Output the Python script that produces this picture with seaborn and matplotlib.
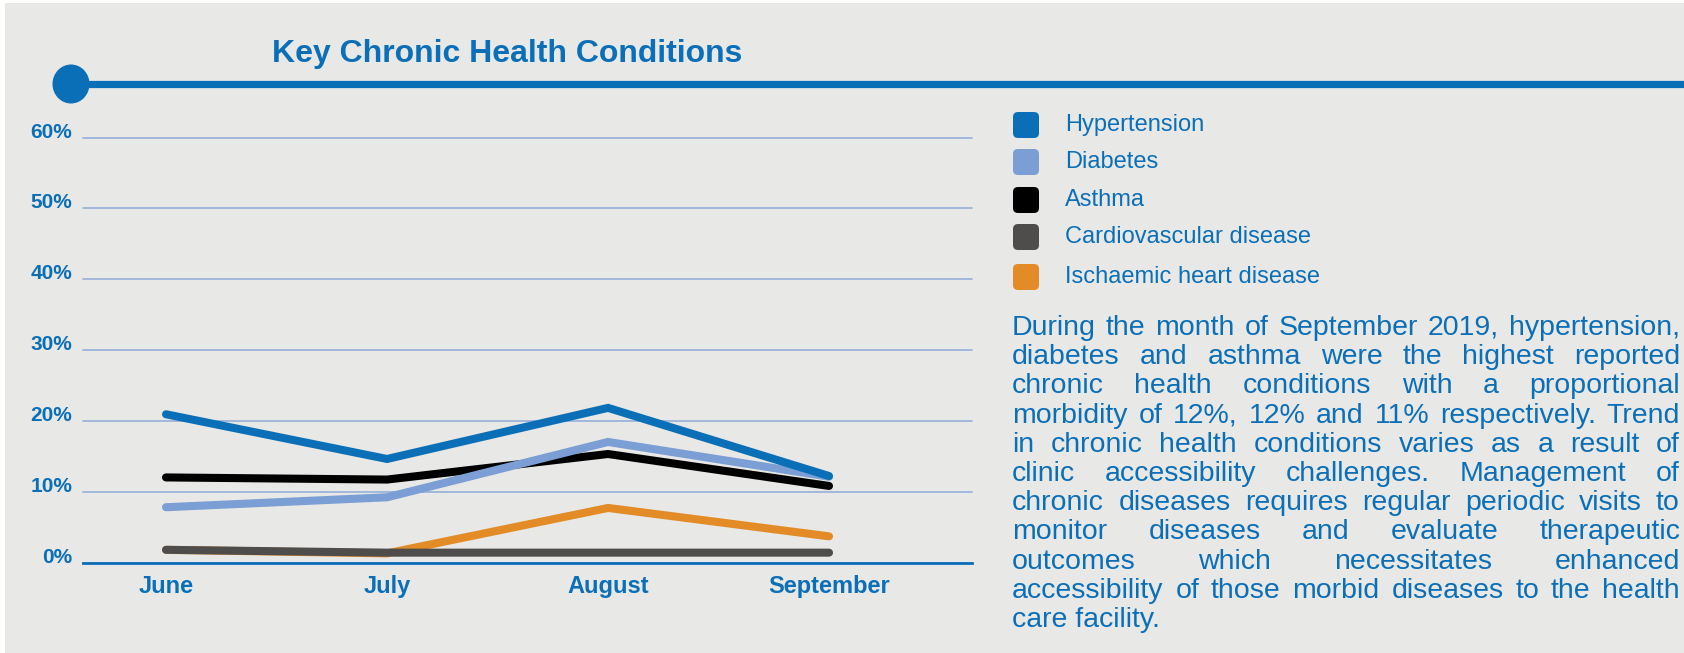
import matplotlib

matplotlib.use("Agg")
import pandas as pd
import seaborn as sns
import matplotlib.pyplot as plt
from matplotlib.patches import Rectangle, Ellipse, FancyBboxPatch
from matplotlib.lines import Line2D

# data (% proportional morbidity)
months = ["June", "July", "August", "September"]
hypertension = [21.0, 14.7, 21.9, 12.3]
diabetes = [7.9, 9.3, 17.1, 12.2]
asthma = [12.1, 11.8, 15.4, 10.9]
cardiovascular = [1.9, 1.5, 1.5, 1.5]
ischaemic = [1.9, 1.4, 7.8, 3.8]

legend_order = ["Hypertension", "Diabetes", "Asthma",
                "Cardiovascular disease", "Ischaemic heart disease"]
colors = {
    "Hypertension": "#0B6FB8",
    "Diabetes": "#7B9ED4",
    "Asthma": "#000000",
    "Cardiovascular disease": "#4F4D4C",
    "Ischaemic heart disease": "#E38B27",
}
# drawing order, bottom to top
draw_order = ["Ischaemic heart disease", "Cardiovascular disease",
              "Asthma", "Diabetes", "Hypertension"]

paragraph = [
    "During the month of September 2019, hypertension,",
    "diabetes and asthma were the highest reported",
    "chronic health conditions with a proportional",
    "morbidity of 12%, 12% and 11% respectively. Trend",
    "in chronic health conditions varies as a result of",
    "clinic accessibility challenges. Management of",
    "chronic diseases requires regular periodic visits to",
    "monitor diseases and evaluate therapeutic",
    "outcomes which necessitates enhanced",
    "accessibility of those morbid diseases to the health",
    "care facility.",
]

series = {
    "Hypertension": hypertension,
    "Diabetes": diabetes,
    "Asthma": asthma,
    "Cardiovascular disease": cardiovascular,
    "Ischaemic heart disease": ischaemic,
}
df = pd.DataFrame(
    [(m, name, v) for name, vals in series.items() for m, v in zip(months, vals)],
    columns=["month", "condition", "value"],
)

sns.set_theme(style="white")
plt.rcParams["font.family"] = ["Liberation Sans", "DejaVu Sans"]

BLUE = "#0B6FB8"
BG = "#E8E8E6"
W, H = 1684, 653

fig = plt.figure(figsize=(W / 100, H / 100), dpi=100, facecolor="white")
px = fig.dpi_scale_trans


def py(y):
    # top-based pixel -> inches from bottom
    return (H - y) / 100


fig.patches.append(Rectangle((5 / 100, 0), (W - 5) / 100, py(3), transform=px,
                             facecolor=BG, edgecolor="none", zorder=-5))

# header: circle + thick rule
fig.lines.append(Line2D([71 / 100, W / 100], [py(84), py(84)], transform=px,
                        color=BLUE, lw=5.2, zorder=2))
fig.patches.append(Ellipse((71 / 100, py(84)), 0.37, 0.39, transform=px,
                           facecolor=BLUE, edgecolor="none", zorder=3))
fig.text(272 / 100, py(62), "Key Chronic Health Conditions", transform=px,
         fontsize=23, fontweight="bold", color=BLUE, va="baseline", ha="left")

# chart
ax = fig.add_axes([82.7 / W, 1 - 563.3 / H, (972 - 82.7) / W, (563.3 - 137.5) / H])
ax.set_facecolor("none")
sns.lineplot(data=df, x="month", y="value", hue="condition", hue_order=draw_order,
             palette=colors, lw=5.8, legend=False, ax=ax, sort=False)
for ln in ax.get_lines():
    ln.set_solid_capstyle("round")
    ln.set_solid_joinstyle("miter")

ax.set_xlim(-0.377, 3.647)
ax.set_ylim(0, 60)
ax.set_yticks(range(0, 61, 10))
ax.set_yticklabels([f"{v}%" for v in range(0, 61, 10)])
ax.set_xlabel("")
ax.set_ylabel("")
ax.grid(axis="y", color="#9DB3DC", lw=1.3)
ax.set_axisbelow(True)
for g in ax.get_ygridlines():
    g.set_clip_on(False)
for s in ["top", "left", "right"]:
    ax.spines[s].set_visible(False)
ax.spines["bottom"].set_color(BLUE)
ax.spines["bottom"].set_linewidth(2)
ax.tick_params(axis="y", length=0, pad=7.7, labelsize=15, labelcolor=BLUE)
ax.tick_params(axis="x", length=0, pad=8.5, labelsize=17, labelcolor=BLUE)
for lab in ax.get_yticklabels():
    lab.set_fontweight("bold")
    lab.set_verticalalignment("baseline")
for lab in ax.get_xticklabels():
    lab.set_fontweight("bold")

# legend (custom, rounded squares)
legend_y = [125, 162, 200, 237, 277]
for name, y in zip(legend_order, legend_y):
    fig.patches.append(FancyBboxPatch((1013 / 100, py(y + 13)), 0.26, 0.26,
                                      boxstyle="round,pad=0,rounding_size=0.05",
                                      transform=px, facecolor=colors[name],
                                      edgecolor="none"))
    fig.text(1065 / 100, py(y), name, transform=px, fontsize=17,
             color=BLUE, va="center", ha="left")

# justified paragraph
fig.canvas.draw()
renderer = fig.canvas.get_renderer()
left, right = 1012, 1680
avail = right - left


def width_of(s, fs):
    t = fig.text(0, 0, s, fontsize=fs)
    w = t.get_window_extent(renderer).width
    t.remove()
    return w


fs = 20.5
widest = max(width_of(l, fs) for l in paragraph[:-1])
if widest > avail * 0.995:
    fs = fs * avail * 0.995 / widest

base0, step = 335, 29.2
for i, line in enumerate(paragraph):
    y = py(base0 + i * step)
    words = line.split()
    if i == len(paragraph) - 1 or len(words) == 1:
        fig.text(left / 100, y, line, transform=px, fontsize=fs, color=BLUE,
                 va="baseline", ha="left")
        continue
    widths = [width_of(w, fs) for w in words]
    gap = (avail - sum(widths)) / (len(words) - 1)
    x = left
    for w, wd in zip(words, widths):
        fig.text(x / 100, y, w, transform=px, fontsize=fs, color=BLUE,
                 va="baseline", ha="left")
        x += wd + gap

fig.savefig("out.png", dpi=100, facecolor=fig.get_facecolor())
plt.close(fig)
